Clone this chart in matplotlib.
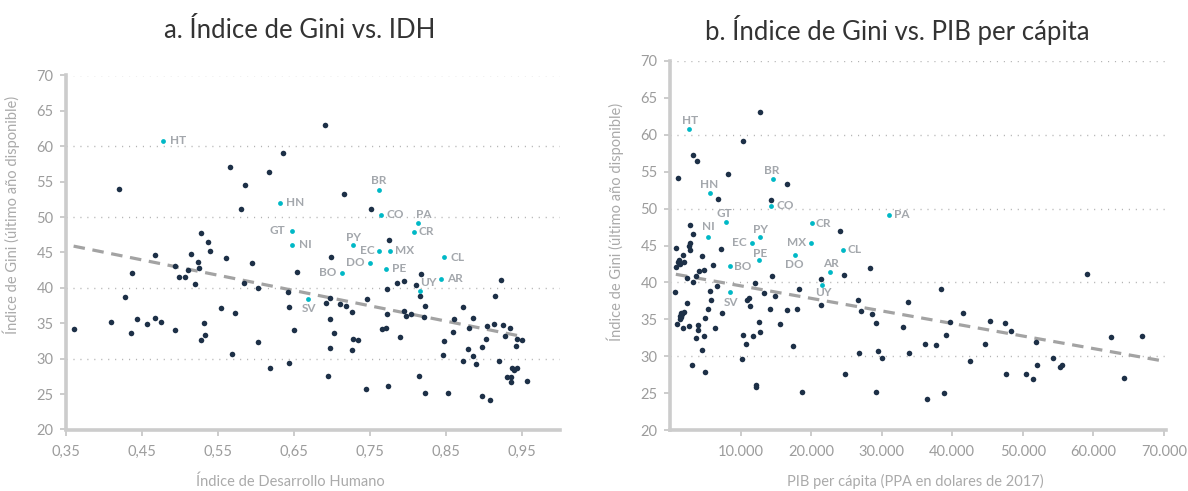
import matplotlib
matplotlib.use("Agg")
import matplotlib.pyplot as plt

plt.rcParams['font.family'] = ['Lato', 'DejaVu Sans']

# ---------------- Panel a: Gini vs IDH ----------------
idh_other = [0.691, 0.636, 0.566, 0.617, 0.420, 0.585, 0.580, 0.528, 0.537, 0.540,
             0.467, 0.514, 0.560, 0.699, 0.595, 0.654, 0.437, 0.494, 0.524, 0.525,
             0.510, 0.499, 0.506, 0.520, 0.584, 0.602, 0.642, 0.644, 0.692, 0.698,
             0.428, 0.554, 0.573, 0.360, 0.409, 0.443, 0.435, 0.457, 0.467, 0.475,
             0.494, 0.531, 0.527, 0.533, 0.569, 0.603, 0.618, 0.644, 0.650, 0.698,
             0.697, 0.695, 0.716, 0.751, 0.775, 0.817, 0.786, 0.795, 0.811, 0.923,
             0.773, 0.816, 0.914, 0.746, 0.711, 0.719, 0.823, 0.873, 0.726, 0.795,
             0.797, 0.804, 0.772, 0.821, 0.860, 0.886, 0.913, 0.904, 0.925, 0.934,
             0.880, 0.771, 0.766, 0.859, 0.703, 0.927, 0.789, 0.727, 0.734, 0.903,
             0.944, 0.950, 0.847, 0.726, 0.879, 0.898, 0.942, 0.846, 0.885, 0.873,
             0.889, 0.920, 0.937, 0.940, 0.943, 0.814, 0.930, 0.936, 0.935, 0.956,
             0.745, 0.774, 0.823, 0.852, 0.897, 0.908]
gini_other_a = [63.0, 59.05, 57.1, 56.3, 54.0, 54.6, 51.2, 47.7, 46.5, 45.2,
                44.6, 44.8, 44.2, 44.3, 43.5, 42.3, 42.1, 43.05, 43.6, 42.75,
                42.55, 41.5, 41.6, 40.5, 40.7, 40.0, 39.4, 37.3, 37.9, 38.6,
                38.7, 37.1, 36.4, 34.25, 35.2, 35.65, 33.6, 34.9, 35.8, 35.2,
                34.1, 35.1, 32.6, 33.4, 30.6, 32.3, 28.7, 29.4, 34.0, 35.6,
                31.5, 27.6, 53.3, 51.1, 46.8, 41.9, 40.7, 40.95, 40.4, 41.1,
                39.8, 38.9, 38.9, 38.4, 37.7, 37.5, 37.5, 37.3, 36.6, 36.7,
                36.1, 36.3, 36.3, 35.9, 35.6, 35.8, 34.9, 34.6, 34.7, 34.3,
                34.3, 34.3, 34.15, 33.8, 33.6, 33.25, 33.1, 32.8, 32.7, 32.8,
                32.8, 32.7, 32.5, 31.2, 31.3, 31.6, 31.8, 30.5, 30.4, 29.7,
                29.2, 29.7, 28.7, 28.4, 28.7, 27.5, 27.4, 27.4, 26.75, 26.9,
                25.7, 26.1, 25.1, 25.1, 24.8, 24.1]

lac_codes_a = ["HT", "HN", "GT", "NI", "SV", "BR", "CO", "PA", "CR", "PY",
               "EC", "MX", "CL", "DO", "PE", "BO", "AR", "UY"]
lac_idh = [0.478, 0.631, 0.647, 0.648, 0.669, 0.762, 0.764, 0.813, 0.808, 0.727,
           0.762, 0.776, 0.848, 0.750, 0.771, 0.713, 0.844, 0.816]
lac_gini_a = [60.7, 52.0, 48.1, 46.1, 38.5, 53.8, 50.3, 49.1, 47.9, 46.1,
              45.25, 45.25, 44.3, 43.55, 42.7, 42.15, 41.3, 39.6]

trend_idh = [0.36, 0.952]
trend_gini_a = [45.9, 33.1]

idh_ticks = [0.35, 0.45, 0.55, 0.65, 0.75, 0.85, 0.95]
idh_ticklabels = ["0,35", "0,45", "0,55", "0,65", "0,75", "0,85", "0,95"]

# ---------------- Panel b: Gini vs PIB per capita ----------------
pib_other = [12680, 10310, 3275, 3800, 1060, 8190, 16540, 6810, 14330, 2800,
             3190, 2800, 2700, 780, 2800, 7200, 4550, 1770, 1290, 1060,
             1910, 1390, 780, 6060, 2340, 3270, 3650, 4120, 4830, 640,
             6680, 5680, 5780, 2420, 5310, 7380, 920, 1950, 1490, 1710,
             1340, 1570, 1390, 1770, 2660, 3900, 3980, 4930, 6300, 3650,
             4830, 4550, 3040, 4930, 10170, 10310, 10780, 10880, 11200, 11300,
             12050, 13330, 14420, 14840, 14090, 12530, 12680, 11770, 15600, 16590,
             17960, 18240, 17440, 18710, 12150, 12200, 21320, 21320, 24710, 28340,
             24090, 26600, 27070, 28580, 29110, 26740, 29480, 30100, 24720, 29190,
             33730, 33070, 33870, 36140, 37740, 36470, 38880, 38360, 39110, 39630,
             41570, 42510, 44630, 45400, 47420, 48370, 47600, 50490, 51390, 51910,
             52000, 54270, 55310, 55590, 59040, 62440, 66920, 64320]
gini_other_b = [63.1, 59.1, 57.2, 56.4, 54.1, 54.7, 53.4, 51.35, 51.2, 47.8,
                46.6, 45.3, 45.0, 44.7, 44.35, 44.5, 43.6, 43.7, 43.1, 42.8,
                42.8, 42.5, 42.1, 42.4, 40.6, 40.1, 40.9, 41.6, 41.7, 38.7,
                39.55, 38.8, 37.6, 37.15, 36.4, 35.8, 34.4, 36.0, 35.8, 35.7,
                35.5, 35.3, 35.05, 33.8, 34.15, 34.25, 33.6, 35.2, 33.8, 32.45,
                32.7, 30.8, 28.85, 27.8, 29.6, 32.9, 31.6, 37.6, 37.9, 36.8,
                39.9, 38.6, 40.9, 38.1, 36.4, 34.6, 33.3, 32.8, 34.3, 36.3,
                36.4, 39.05, 31.4, 25.2, 26.1, 25.8, 40.5, 37.0, 41.05, 41.9,
                46.9, 37.65, 36.1, 35.7, 34.5, 30.5, 30.65, 29.8, 27.6, 25.2,
                37.4, 33.9, 30.5, 31.7, 31.45, 24.25, 24.95, 39.05, 32.9, 34.65,
                35.9, 29.3, 31.7, 34.8, 34.5, 33.4, 27.55, 27.55, 26.96, 31.95,
                28.8, 29.8, 28.5, 28.8, 41.2, 32.55, 32.8, 27.0]

lac_codes_b = ["HT", "BR", "HN", "CO", "GT", "CR", "NI", "PY", "EC", "MX",
               "PE", "DO", "BO", "SV", "PA", "CL", "AR", "UY"]
lac_pib = [2705, 14520, 5590, 14230, 7860, 20040, 5350, 12760, 11540, 19900,
           12620, 17630, 8470, 8470, 31030, 24520, 22630, 21540]
lac_gini_b = [60.8, 53.95, 52.1, 50.4, 48.25, 48.0, 46.2, 46.2, 45.4, 45.4,
              43.0, 43.7, 42.2, 38.65, 49.2, 44.4, 41.4, 39.7]

trend_pib = [800, 70200]
trend_gini_b = [41.1, 29.3]

pib_ticks = [10000, 20000, 30000, 40000, 50000, 60000, 70000]
pib_ticklabels = ["10.000", "20.000", "30.000", "40.000", "50.000", "60.000", "70.000"]

gini_ticks = [20, 25, 30, 35, 40, 45, 50, 55, 60, 65, 70]
grid_levels = [30, 40, 50, 60, 70]

# ---------------- label placement (offsets in points) ----------------
label_pos_a = {
    "HT": (4.5, 0.5, "left", "center"), "HN": (4.5, 0, "left", "center"),
    "GT": (-4.5, 0, "right", "center"), "NI": (4.5, 0, "left", "center"),
    "SV": (0.5, -7, "center", "center"), "BR": (0, 7, "center", "center"),
    "CO": (4, 0, "left", "center"), "PA": (4.5, 6.7, "center", "center"),
    "CR": (3.5, 0, "left", "center"), "PY": (1, 5, "center", "center"),
    "EC": (-3.5, 0, "right", "center"), "MX": (4, 0, "left", "center"),
    "CL": (4, 0, "left", "center"), "DO": (-4, 0, "right", "center"),
    "PE": (4, 0, "left", "center"), "BO": (-4, 0, "right", "center"),
    "AR": (4, 0, "left", "center"), "UY": (6, 5.8, "center", "center"),
}
label_pos_b = {
    "HT": (0.5, 6, "center", "center"), "HN": (0, 6.3, "center", "center"),
    "BR": (-1, 6.7, "center", "center"), "CO": (4, 0, "left", "center"),
    "GT": (-0.7, 5.8, "center", "center"), "CR": (3, 0, "left", "center"),
    "NI": (0, 7.2, "center", "center"), "PY": (0.3, 5.3, "center", "center"),
    "EC": (-3.5, 0, "right", "center"), "MX": (-3.5, 0, "right", "center"),
    "PE": (1, 5, "center", "center"), "DO": (0, -6.7, "center", "center"),
    "BO": (3, 0, "left", "center"), "SV": (0.5, -7, "center", "center"),
    "PA": (3.3, 0, "left", "center"), "CL": (3.5, 0, "left", "center"),
    "AR": (0.7, 6, "center", "center"), "UY": (1, -6, "center", "center"),
}

DARK = "#1d3047"
TEAL = "#00b8c6"
LABEL = "#a3a7ac"
SPINE = "#cccccc"
TICKTXT = "#9c9c9c"
TITLE = "#333333"

W, H = 1188, 491
fig = plt.figure(figsize=(W / 100, H / 100), dpi=100)
axA = fig.add_axes([66 / W, 1 - 429.5 / H, (560 - 66) / W, (429.5 - 75.5) / H])
axB = fig.add_axes([670.2 / W, 1 - 430 / H, (1166 - 670.2) / W, (430 - 61) / H])


def style(ax):
    for s in ["top", "right"]:
        ax.spines[s].set_visible(False)
    for s in ["left", "bottom"]:
        ax.spines[s].set_color(SPINE)
        ax.spines[s].set_linewidth(2.6)
        ax.spines[s].set_zorder(1)
    ax.tick_params(axis="both", colors=SPINE, labelcolor=TICKTXT,
                   labelsize=10.5, length=4, width=1.4)
    ax.tick_params(axis="y", pad=5)
    ax.tick_params(axis="x", pad=7)
    ax.set_ylim(20, 70)
    ax.set_yticks(gini_ticks)
    for g in grid_levels:
        ax.axhline(g, color="#b3b3b3", lw=1.0, ls=(0, (0.8, 4.2)), zorder=0)
    ax.set_ylabel("Índice de Gini (último año disponible)", color="#aaaaaa",
                  fontsize=10.5)


# Panel a
style(axA)
axA.set_xlim(0.35, 1.0)
axA.set_xticks(idh_ticks)
axA.set_xticklabels(idh_ticklabels)
axA.plot(trend_idh, trend_gini_a, color="#a3a3a3", lw=2.3, ls=(0, (3.6, 2.4)),
         zorder=2)
axA.scatter(idh_other, gini_other_a, s=16, color=DARK, zorder=3, linewidths=0)
axA.scatter(lac_idh, lac_gini_a, s=12, color=TEAL, zorder=4, linewidths=0)
for c, x, y in zip(lac_codes_a, lac_idh, lac_gini_a):
    dx, dy, ha, va = label_pos_a[c]
    axA.annotate(c, (x, y), xytext=(dx, dy), textcoords="offset points",
                 ha=ha, va=va, fontsize=8.5, fontweight="bold", color=LABEL,
                 zorder=5)
axA.set_xlabel("Índice de Desarrollo Humano", color="#aaaaaa", fontsize=10.5)
axA.xaxis.set_label_coords((290 - 66) / 494, -(474 - 429.5) / 354)
axA.yaxis.set_label_coords(-(66 - 20) / 494, (429.5 - 215) / 354)

# Panel b
style(axB)
axB.set_xlim(0, 70300)
axB.set_xticks(pib_ticks)
axB.set_xticklabels(pib_ticklabels)
axB.plot(trend_pib, trend_gini_b, color="#a3a3a3", lw=2.3, ls=(0, (3.6, 2.4)),
         zorder=2, clip_on=False)
axB.scatter(pib_other, gini_other_b, s=16, color=DARK, zorder=3, linewidths=0)
axB.scatter(lac_pib, lac_gini_b, s=12, color=TEAL, zorder=4, linewidths=0)
for c, x, y in zip(lac_codes_b, lac_pib, lac_gini_b):
    dx, dy, ha, va = label_pos_b[c]
    axB.annotate(c, (x, y), xytext=(dx, dy), textcoords="offset points",
                 ha=ha, va=va, fontsize=8.5, fontweight="bold", color=LABEL,
                 zorder=5)
axB.set_xlabel("PIB per cápita (PPA en dolares de 2017)", color="#aaaaaa",
               fontsize=10.5)
axB.xaxis.set_label_coords((915 - 670.2) / 496, -(474 - 430) / 369)
axB.yaxis.set_label_coords(-(670.2 - 624) / 496, (430 - 222) / 369)

fig.text(300 / W, 1 - 30 / H, "a. Índice de Gini vs. IDH", ha="center",
         va="center", fontsize=18.5, color=TITLE)
fig.text(897 / W, 1 - 30 / H, "b. Índice de Gini vs. PIB per cápita",
         ha="center", va="center", fontsize=18.5, color=TITLE)

fig.savefig("out.png", dpi=100)
